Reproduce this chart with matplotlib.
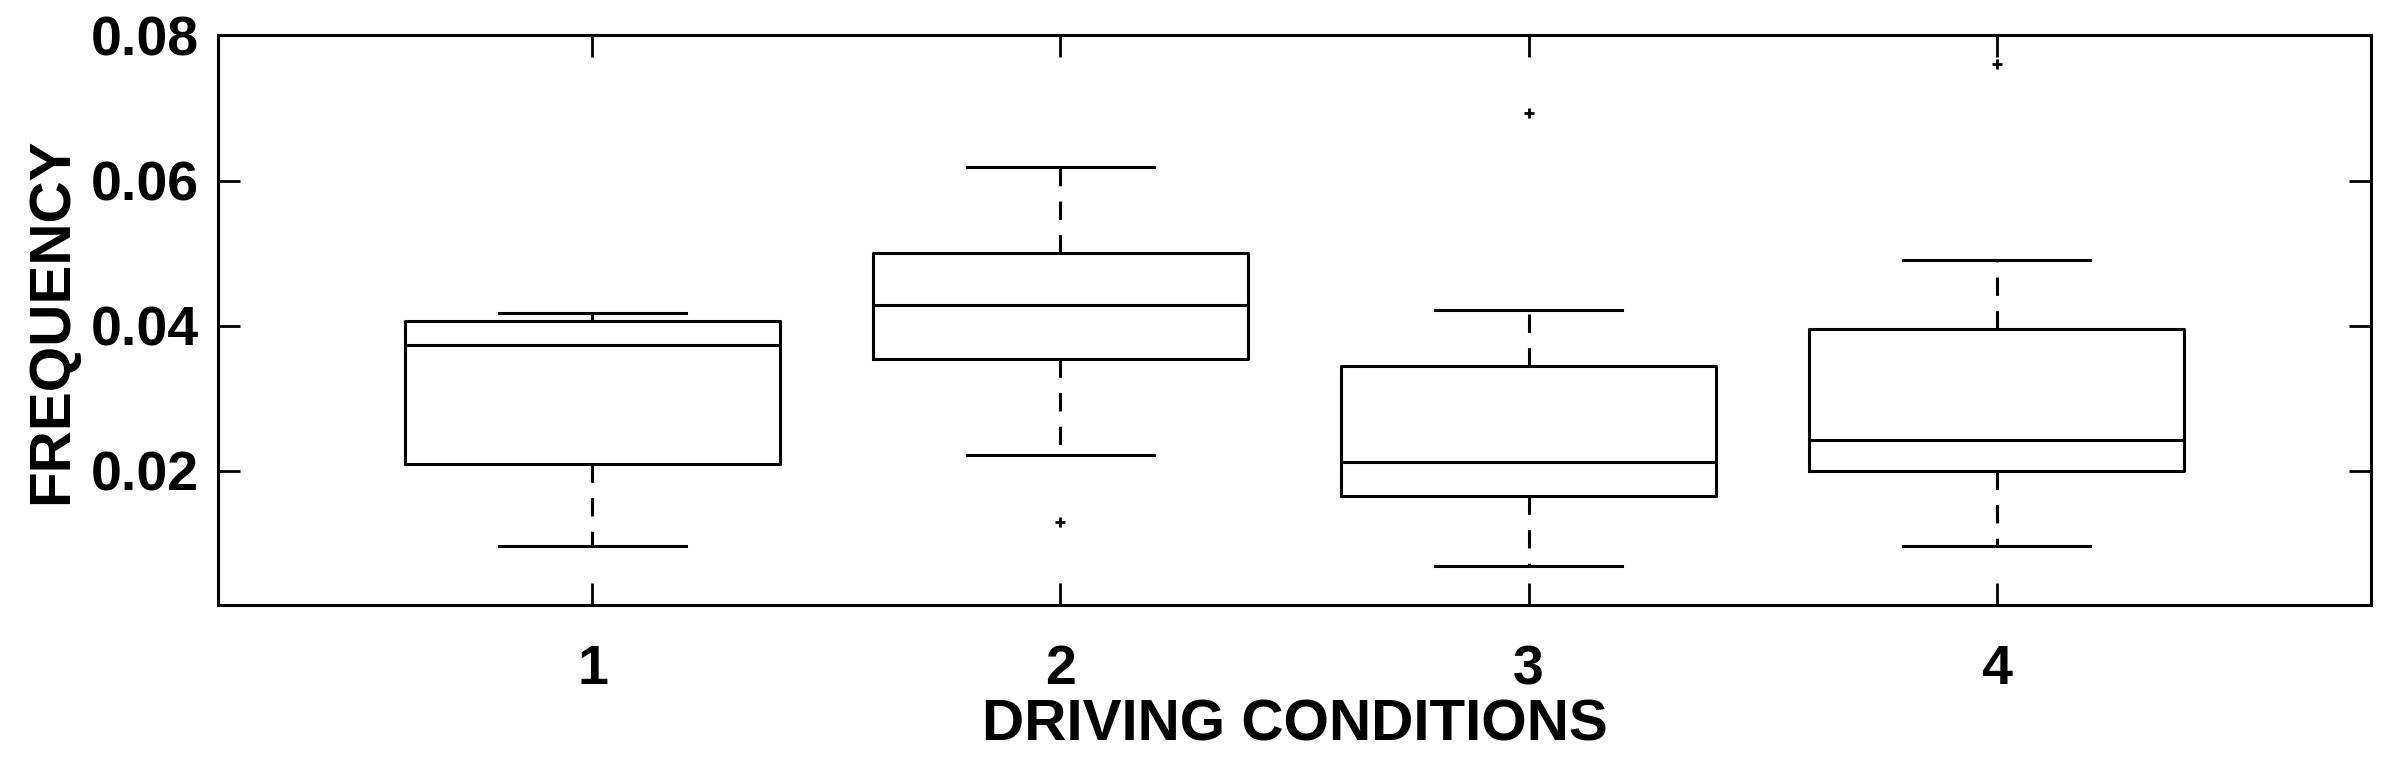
import matplotlib.pyplot as plt

conditions = [1, 2, 3, 4]
whisker_low = [0.0096, 0.0222, 0.0069, 0.0096]
q1 = [0.0209, 0.0354, 0.0166, 0.0200]
medians = [0.0373, 0.0429, 0.0212, 0.0242]
q3 = [0.0407, 0.0500, 0.0345, 0.0395]
whisker_high = [0.0418, 0.0619, 0.0422, 0.0491]
outliers = [[], [0.0129], [0.0693], [0.0761]]

plt.rcParams['font.family'] = ['Liberation Sans', 'DejaVu Sans']
plt.rcParams['font.weight'] = 'bold'

stats = []
for i in range(len(conditions)):
    stats.append({
        'whislo': whisker_low[i], 'q1': q1[i], 'med': medians[i],
        'q3': q3[i], 'whishi': whisker_high[i], 'fliers': outliers[i],
        'label': str(conditions[i]),
    })

fig = plt.figure(figsize=(24.01, 7.68), dpi=100)
ax = fig.add_axes([0.0908, 0.212, 0.8967, 0.742])

lw = 2.2
ax.bxp(stats, positions=conditions, widths=0.8, showfliers=True,
       boxprops=dict(color='black', linewidth=lw),
       medianprops=dict(color='black', linewidth=lw),
       whiskerprops=dict(color='black', linewidth=lw, linestyle=(0, (6, 5))),
       capprops=dict(color='black', linewidth=lw),
       capwidths=0.4,
       flierprops=dict(marker='+', markersize=7, markeredgecolor='black',
                       markeredgewidth=2))

ax.set_xlim(0.2, 4.8)
ax.set_ylim(0.0015, 0.08)
ax.set_yticks([0.02, 0.04, 0.06, 0.08])
ax.set_yticklabels(['0.02', '0.04', '0.06', '0.08'])
ax.set_xticks(conditions)
ax.set_xticklabels([str(c) for c in conditions])

for s in ax.spines.values():
    s.set_linewidth(2.2)
ax.tick_params(direction='in', length=16, width=2, top=True, right=True,
               labelsize=40)
ax.tick_params(axis='y', pad=14)
ax.tick_params(axis='x', pad=28)
for lab in ax.get_xticklabels() + ax.get_yticklabels():
    lab.set_fontweight('bold')

ax.set_xlabel('DRIVING CONDITIONS', fontsize=42, fontweight='bold', labelpad=2)
ax.set_ylabel('FREQUENCY', fontsize=42, fontweight='bold', labelpad=8)

fig.savefig('out.png', dpi=100)
